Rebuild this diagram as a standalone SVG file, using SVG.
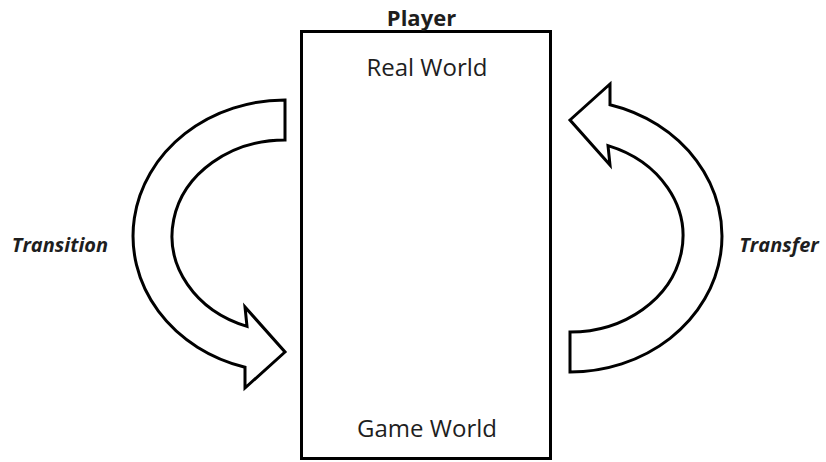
<svg xmlns="http://www.w3.org/2000/svg" width="826" height="462" viewBox="0 0 826 462">
  <defs>
    <style>
      .box { fill: #ffffff; stroke: #000000; stroke-width: 3; }
      .arrow { fill: #ffffff; stroke: #000000; stroke-width: 3; stroke-linejoin: miter; }
      .lbl { font-family: "Open Sans", "Liberation Sans", sans-serif; fill: #1e1e1e; text-anchor: middle; }
      .title { font-weight: bold; font-size: 22px; }
      .world { font-size: 24px; }
      .side { font-weight: bold; font-style: italic; font-size: 20px; }
    </style>
    <path id="curved" d="M285,100 L285,140 A113,96 0 0,0 247,326.4 L245,307 L285,352 L245,388 L245,367.2 A152,136 0 0,1 285,100 Z"/>
  </defs>
  <rect width="826" height="462" fill="#ffffff"/>

  <g id="player">
    <rect class="box" x="301.5" y="31.5" width="249" height="427"/>
    <text class="lbl title" x="421.5" y="26">Player</text>
  </g>

  <g id="real-world">
    <text class="lbl world" x="427" y="76">Real World</text>
  </g>

  <g id="game-world">
    <text class="lbl world" x="427" y="437">Game World</text>
  </g>

  <g id="connectors">
    <use href="#curved" class="arrow"/>
    <use href="#curved" class="arrow" transform="rotate(180 427.5 236)"/>
  </g>

  <g id="transition-label">
    <text class="lbl side" x="60" y="252">Transition</text>
  </g>

  <g id="transfer-label">
    <text class="lbl side" x="779" y="252">Transfer</text>
  </g>
</svg>
